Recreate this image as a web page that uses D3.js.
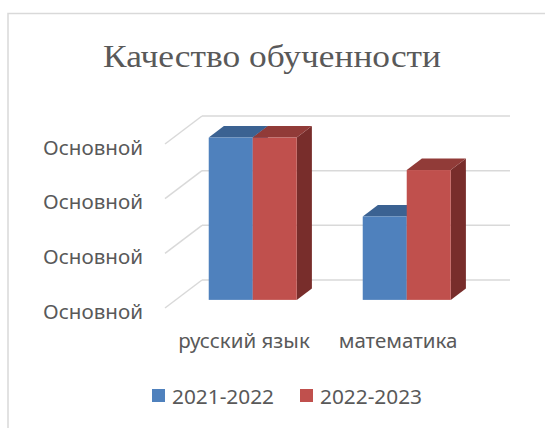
<!DOCTYPE html>
<html>
<head>
<meta charset="utf-8">
<script src="https://cdn.jsdelivr.net/npm/d3@7"></script>
<style>
  html, body { margin: 0; padding: 0; background: #fff; }
  svg { display: block; }
</style>
</head>
<body>
<div id="chart"></div>
<script>
// ---- data ----
const title = "Качество обученности";
const categories = ["русский язык", "математика"];
const seriesNames = ["2021-2022", "2022-2023"];
const values2021 = [59.4, 30.5];
const values2022 = [59.4, 47.5];
const tickValues = [0, 20, 40, 60];
const tickLabels = ["Основной", "Основной", "Основной", "Основной"];
const seriesColors = ["#4F81BD", "#C0504D"];
const topColors = ["#3B6292", "#913B38"];
const sideColors = ["#2F5077", "#782D2B"];

const W = 545, H = 428;
const svg = d3.select("#chart").append("svg").attr("width", W).attr("height", H);

// frame
svg.append("rect").attr("x", 8).attr("y", 13.5).attr("width", 560).attr("height", 440)
  .attr("fill", "none").attr("stroke", "#D9D9D9").attr("stroke-width", 1.5);

// title
svg.append("text").attr("x", 272).attr("y", 67).attr("text-anchor", "middle")
  .attr("font-family", "Liberation Serif, Times New Roman, serif")
  .attr("font-size", 32).attr("fill", "#595959")
  .attr("textLength", 338).attr("lengthAdjust", "spacingAndGlyphs")
  .text(title);

// 3D projection
const DX = 37, DY = -28;
const proj = (x, y, z) => [x + z * DX, y + z * DY];

const x = d3.scaleBand().domain(categories).range([165, 473]).paddingInner(0).paddingOuter(0);
const xs = d3.scaleBand().domain(seriesNames).range([0, x.bandwidth()]).paddingInner(0).paddingOuter(0.75);
const y = d3.scaleLinear().domain([0, 60]).range([308, 144]);

const grid = svg.append("g").attr("stroke", "#D9D9D9").attr("stroke-width", 1.5).attr("fill", "none");
tickValues.forEach(v => {
  const f = proj(165, y(v), 0), b = proj(165, y(v), 1), e = proj(473, y(v), 1);
  grid.append("line").attr("x1", f[0]).attr("y1", f[1]).attr("x2", b[0]).attr("y2", b[1]);
  grid.append("line").attr("x1", b[0]).attr("y1", b[1]).attr("x2", e[0]).attr("y2", e[1]);
});

// y labels
svg.append("g").selectAll("text").data(tickValues).join("text")
  .attr("x", 143).attr("y", v => y(v) + 10.5)
  .attr("text-anchor", "end")
  .attr("font-family", "Noto Sans, Open Sans, sans-serif")
  .attr("font-size", 19).attr("fill", "#595959")
  .attr("textLength", 100).attr("lengthAdjust", "spacingAndGlyphs")
  .text((v, i) => tickLabels[i]);

// bars
const Z0 = 0.29, Z1 = 0.70;
const seriesVals = [values2021, values2022];
const barsG = svg.append("g");
const poly = pts => pts.map(p => p.join(",")).join(" ");
categories.forEach((c, ci) => {
  seriesNames.forEach((s, si) => {
    const v = seriesVals[si][ci];
    const x0 = x(c) + xs(s), x1 = x0 + xs.bandwidth();
    const yt = y(v), yb = y(0);
    barsG.append("polygon").attr("fill", sideColors[si]).attr("points", poly([
      proj(x1, yt, Z0), proj(x1, yt, Z1), proj(x1, yb, Z1), proj(x1, yb, Z0)]));
    barsG.append("polygon").attr("fill", topColors[si]).attr("points", poly([
      proj(x0, yt, Z0), proj(x0, yt, Z1), proj(x1, yt, Z1), proj(x1, yt, Z0)]));
    const p0 = proj(x0, yt, Z0), p1 = proj(x1, yb, Z0);
    barsG.append("rect").attr("x", p0[0]).attr("y", p0[1])
      .attr("width", p1[0] - p0[0]).attr("height", p1[1] - p0[1])
      .attr("fill", seriesColors[si]);
  });
});

// category labels
svg.append("g").selectAll("text").data(categories).join("text")
  .attr("x", d => x(d) + x.bandwidth() / 2 + 2).attr("y", 348)
  .attr("text-anchor", "middle")
  .attr("font-family", "Noto Sans, Open Sans, sans-serif")
  .attr("font-size", 20.5).attr("fill", "#595959")
  .text(d => d);

// legend
const leg = svg.append("g");
const legX = [152, 300];
seriesNames.forEach((s, i) => {
  leg.append("rect").attr("x", legX[i]).attr("y", 389).attr("width", 13).attr("height", 13).attr("fill", seriesColors[i]);
  leg.append("text").attr("x", legX[i] + 20).attr("y", 404)
    .attr("font-family", "Noto Sans, Open Sans, sans-serif")
    .attr("font-size", 20).attr("fill", "#595959")
    .attr("textLength", 102).attr("lengthAdjust", "spacingAndGlyphs")
    .text(s);
});
</script>
</body>
</html>
